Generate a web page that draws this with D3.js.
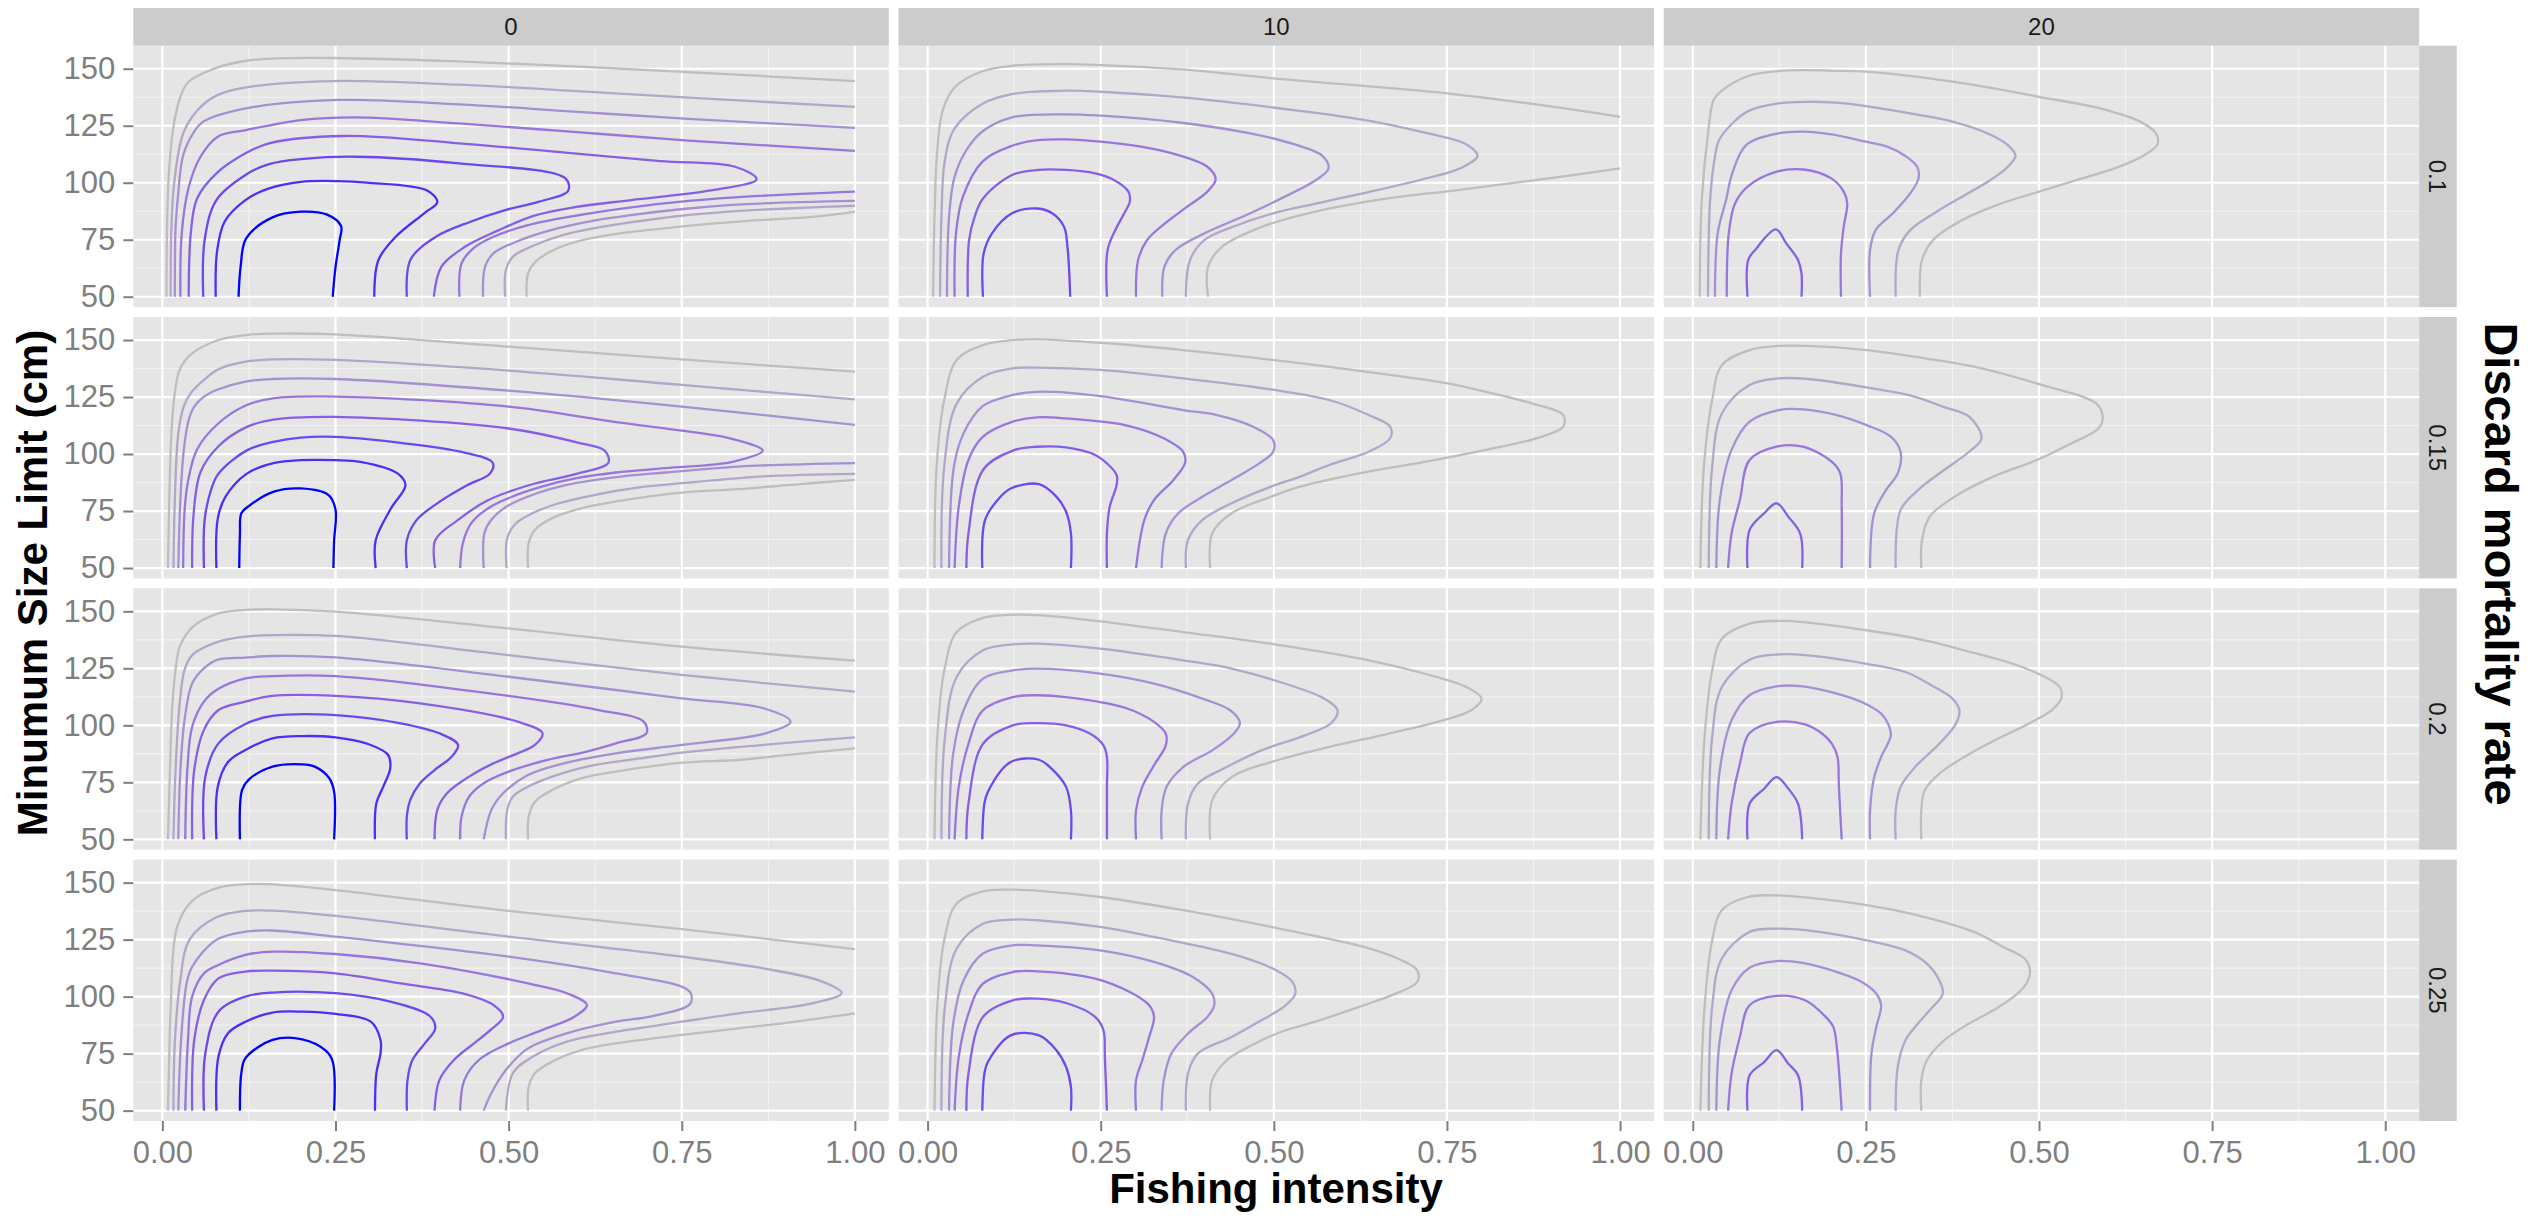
<!DOCTYPE html>
<html><head><meta charset="utf-8">
<script src="https://cdn.jsdelivr.net/npm/d3@7"></script>
<style>
body{margin:0;background:#fff}
svg{display:block}
text{font-family:"Liberation Sans",Arial,Helvetica,sans-serif}
</style>
</head><body>
<svg id="chart" width="2542" height="1220"></svg>
<script>
// ---------------- DATA ----------------
const colFacets = ["0", "10", "20"];
const rowFacets = ["0.1", "0.15", "0.2", "0.25"];
const xTicks = [0, 0.25, 0.5, 0.75, 1];
const xTickLabels = ["0.00", "0.25", "0.50", "0.75", "1.00"];
const yTicks = [50, 75, 100, 125, 150];
const xMinor = [0.125, 0.375, 0.625, 0.875];
const yMinor = [62.5, 87.5, 112.5, 137.5];
const levels = [1, 2, 3, 4, 5, 6, 7, 8];

// contour lines per panel: [level, [[fishing intensity, size limit], ...]]
const cont_r1_c1 = [
[1,[[.006,50],[.007,85],[.010,107],[.016,124.6],[.026,137.7],[.038,144.3],[.078,150.4],[.121,153.5],[.163,154.5],[.246,154.7],[.428,153.2],[.594,151],[.76,148.5],[1,144.6]]],
[1,[[.526,50],[.528,60.2],[.539,65.4],[.565,70.5],[.602,74.5],[.66,77.8],[.718,79.8],[.785,81.8],[.843,83.2],[.943,85.1],[1,87.3]]],
[2,[[.012,50],[.013,80],[.017,99.7],[.03,121.6],[.051,131.9],[.078,138.2],[.121,141.8],[.246,144.6],[.428,143],[.594,140.3],[.76,137.3],[1,133.3]]],
[2,[[.495,50],[.496,61.7],[.506,67.5],[.532,71.9],[.578,77],[.636,80.7],[.718,84.4],[.818,87.3],[.909,88.8],[1,89.9]]],
[3,[[.018,50],[.019,80],[.022,92.4],[.03,112],[.045,122],[.059,126.8],[.121,132.6],[.254,136.3],[.428,134.4],[.594,131.2],[.76,128],[1,124.1]]],
[3,[[.463,50],[.466,63.2],[.478,69],[.511,74.1],[.561,79.2],[.627,83.6],[.677,85.8],[.76,88.7],[.843,90.6],[1,92]]],
[4,[[.026,50],[.028,78],[.038,98],[.055,111.4],[.08,120.2],[.121,123.1],[.2,127.5],[.279,128.7],[.428,126],[.594,122.3],[.76,118.5],[1,114]]],
[4,[[.429,50],[.432,64.6],[.449,71.2],[.478,76.3],[.528,81.4],[.594,85.4],[.677,89.2],[.76,92],[.843,93.9],[1,96.1]]],
[5,[[.038,50],[.041,77.8],[.05,93],[.078,104.1],[.12,112.9],[.154,117.3],[.262,120.5],[.428,117.3],[.594,112.9],[.719,109.5],[.827,107],[.858,101.5],[.789,96.5],[.677,92.4],[.594,89.2],[.536,85.5],[.486,79.2],[.437,71.9],[.403,63.2],[.392,50]]],
[6,[[.059,50],[.061,74.9],[.078,92.4],[.12,103.4],[.154,108.2],[.204,110.5],[.279,111.4],[.428,108.5],[.582,101.9],[.586,96.5],[.544,91.7],[.495,88],[.445,82.9],[.395,76.3],[.358,66.1],[.353,50]]],
[7,[[.077,50],[.079,70],[.09,83],[.12,92.4],[.154,97.5],[.2,100.4],[.254,100.7],[.295,100],[.383,96.5],[.397,91.5],[.378,86.6],[.337,76.3],[.312,66.1],[.306,50]]],
[8,[[.11,50],[.113,63.2],[.121,75.6],[.159,84.8],[.2,87.3],[.237,86.1],[.258,81],[.256,74.9],[.25,63],[.246,50]]]
];

const cont_r1_c2 = [
[1,[[.008,50],[.01,85.1],[.014,114.3],[.022,131.9],[.039,141.8],[.08,149],[.122,151.3],[.201,152],[.25,151.6],[.367,149.7],[.499,145.8],[.75,139.2],[.897,133.6],[1,128.9]]],
[1,[[.405,50],[.405,63.2],[.425,71.9],[.483,80.7],[.549,86.6],[.648,92.4],[.765,96.8],[.897,101.9],[1,106.3]]],
[2,[[.018,50],[.02,85.1],[.025,110],[.039,123.8],[.08,134.8],[.122,138.9],[.201,140.4],[.25,139.9],[.367,137.4],[.499,133],[.632,127.5],[.723,121.6],[.777,117],[.794,111.8],[.771,106.6],[.711,101.2],[.632,95.6],[.566,91.2],[.499,86.6],[.441,80.7],[.4,74.9],[.379,66.1],[.373,50]]],
[3,[[.028,50],[.031,85.1],[.039,102.6],[.056,114.3],[.08,122.7],[.122,128.7],[.201,130],[.25,129.4],[.367,126.3],[.466,121.6],[.528,117],[.57,111.8],[.579,106.3],[.561,101.2],[.516,93.9],[.466,86.6],[.4,77.8],[.358,70.5],[.342,63.2],[.339,50]]],
[4,[[.039,50],[.041,77.8],[.051,93.9],[.08,109.5],[.122,116.2],[.159,118.7],[.201,119],[.25,118],[.308,115.8],[.362,112.1],[.404,107],[.416,101.5],[.404,96.1],[.375,89.5],[.346,82.9],[.317,74.9],[.304,66.1],[.301,50]]],
[5,[[.058,50],[.06,74.9],[.068,85.1],[.08,93.1],[.122,103.4],[.159,105.6],[.201,105.6],[.242,104.1],[.267,101.5],[.29,96.1],[.292,91.7],[.284,86.6],[.271,79.2],[.26,70.5],[.259,50]]],
[6,[[.08,50],[.081,69],[.093,77.8],[.122,86.6],[.159,88.7],[.18,86.6],[.197,80.7],[.202,71.9],[.206,50]]]
];

const cont_r1_c3 = [
[1,[[.01,50],[.013,92.4],[.022,121.6],[.03,136.3],[.04,139.9],[.08,146.8],[.123,149],[.165,149.4],[.206,149.1],[.25,148.7],[.375,144.3],[.5,137.7],[.588,132.6],[.646,126.8],[.669,121.6],[.671,116.8],[.65,111.7],[.613,106.7],[.555,101.2],[.5,96.1],[.439,90.2],[.389,83.6],[.347,74.9],[.331,66.1],[.328,50]]],
[2,[[.022,50],[.025,92.4],[.032,111.4],[.038,118.7],[.057,126],[.08,131.4],[.123,134.8],[.165,135.5],[.206,135.1],[.25,133.6],[.314,130.4],[.375,126.8],[.426,121.6],[.455,116.5],[.466,111.8],[.455,107],[.43,101.2],[.397,95.3],[.356,88],[.314,79.2],[.297,70.5],[.293,50]]],
[3,[[.032,50],[.036,77.8],[.048,92.4],[.057,104.1],[.077,116.5],[.123,121.6],[.16,122.4],[.198,121.3],[.25,118],[.281,115.8],[.307,111.7],[.324,107],[.326,101.9],[.314,95.3],[.289,86.6],[.264,79.2],[.256,70.5],[.256,50]]],
[4,[[.049,50],[.052,77.8],[.061,90.9],[.08,98.5],[.12,104.8],[.16,105.8],[.2,101.9],[.218,96.1],[.223,90.9],[.218,80.7],[.214,69],[.214,50]]],
[5,[[.079,50],[.08,66.1],[.09,70.5],[.12,79.5],[.135,73.4],[.152,66.1],[.157,60.2],[.157,50]]]
];

const cont_r2_c1 = [
[1,[[.008,50],[.010,80],[.013,109],[.018,127],[.025,137],[.040,143.4],[.081,150],[.124,152.3],[.166,152.8],[.25,152.5],[.5,147.1],[.75,141.5],[1,136.1]]],
[1,[[.528,50],[.529,61],[.538,66.8],[.563,71.9],[.606,76.3],[.655,79.2],[.75,83.1],[.832,84.6],[.903,86.4],[1,88.7]]],
[2,[[.016,50],[.018,80],[.023,109],[.031,121],[.041,126.7],[.060,132.5],[.081,137.2],[.120,140.5],[.159,141.5],[.25,141.3],[.5,136.6],[.75,130.3],[1,124]]],
[2,[[.497,50],[.498,63.1],[.510,69.4],[.535,74.1],[.570,78.2],[.620,81.8],[.691,85.5],[.75,87.2],[.868,90.2],[1,91.3]]],
[3,[[.023,50],[.026,80],[.031,102],[.038,115],[.046,120.8],[.060,125.2],[.078,128.1],[.120,131.8],[.159,132.9],[.25,132.9],[.5,127.8],[.75,120.8],[1,112.8]]],
[3,[[.464,50],[.465,65.3],[.475,71.2],[.499,77.3],[.542,82.9],[.584,86.5],[.655,89.9],[.726,91.9],[.832,94.5],[1,96]]],
[4,[[.030,50],[.032,75],[.037,88],[.05,102],[.081,113.5],[.122,121.5],[.16,124.4],[.249,125.2],[.5,120.8],[.655,114],[.75,110.3],[.818,107],[.867,101.5],[.825,96.7],[.726,93.8],[.655,91.9],[.598,89.4],[.549,85.8],[.506,81.4],[.471,76.3],[.446,69.7],[.434,61],[.43,50]]],
[5,[[.043,50],[.045,73.4],[.055,92],[.081,103.4],[.122,111.9],[.16,115.1],[.249,116.3],[.5,111.2],[.6,105],[.639,101.4],[.644,96.2],[.599,91.4],[.558,88.5],[.529,86.3],[.47,79.7],[.426,70.9],[.394,62.2],[.394,50]]],
[6,[[.060,50],[.061,71.1],[.07,84],[.081,91.4],[.122,101.6],[.16,105.3],[.2,107.2],[.249,107.5],[.352,104.6],[.432,100.9],[.477,96.2],[.473,91.4],[.44,86.3],[.4,79],[.367,71],[.353,62.2],[.353,50]]],
[7,[[.078,50],[.080,71.7],[.091,81.2],[.122,91.4],[.162,96.1],[.2,97.3],[.249,97.3],[.286,96.6],[.34,91.4],[.351,86.3],[.33,76.1],[.308,62.2],[.308,50]]],
[8,[[.111,50],[.112,65],[.114,74],[.124,77],[.161,83.5],[.2,84.9],[.24,82],[.25,75.7],[.248,62],[.247,50]]]
];

const cont_r2_c2 = [
[1,[[.01,50],[.013,94.4],[.024,123.7],[.042,141.2],[.08,147.8],[.123,150],[.158,150.3],[.249,148.8],[.369,145.6],[.501,141.2],[.651,135.4],[.751,131],[.806,127.3],[.876,121.9],[.918,117.1],[.918,112],[.879,106.9],[.806,101.8],[.714,96.3],[.623,91.5],[.538,85.7],[.496,81.3],[.439,74],[.411,65.2],[.408,50]]],
[2,[[.02,50],[.024,94.4],[.042,122.1],[.08,133.9],[.123,137.6],[.158,137.9],[.249,136.9],[.369,133.2],[.501,128.1],[.58,123.7],[.637,117.1],[.668,112],[.668,106.9],[.637,101],[.58,95.2],[.538,90.1],[.496,85.7],[.439,78.4],[.397,71.1],[.376,62.3],[.373,50]]],
[3,[[.031,50],[.038,94.4],[.052,109.1],[.08,121.1],[.123,125.9],[.158,127.3],[.249,125.4],[.369,119.3],[.418,117.1],[.47,112],[.499,106.1],[.499,101],[.479,95.9],[.439,88.6],[.397,81.3],[.362,74],[.344,65.2],[.338,50]]],
[4,[[.039,50],[.045,76.9],[.059,97.4],[.08,107.6],[.123,114.2],[.158,116.1],[.2,115.6],[.285,112.7],[.341,106.9],[.369,101],[.372,96.3],[.355,88.6],[.327,79.8],[.313,71.1],[.301,50]]],
[5,[[.056,50],[.059,65.2],[.08,93],[.123,101.5],[.158,103.2],[.2,102.9],[.242,99.6],[.259,95.9],[.273,90.8],[.273,86.4],[.263,76.9],[.259,65.2],[.259,50]]],
[6,[[.079,50],[.083,71.1],[.101,79.8],[.12,84.9],[.161,86.8],[.186,81.3],[.2,74.7],[.207,65.2],[.207,50]]]
];

const cont_r2_c3 = [
[1,[[.011,50],[.016,94.4],[.028,123.7],[.042,139],[.082,145.6],[.124,147.4],[.166,147.4],[.251,145.6],[.335,142],[.406,138.3],[.504,130.3],[.582,122.3],[.592,116.4],[.586,111.3],[.547,104.7],[.497,97.4],[.434,90.1],[.378,81.3],[.342,72.5],[.331,62.3],[.33,50]]],
[2,[[.023,50],[.028,94.4],[.042,117.8],[.082,130.3],[.124,133.2],[.166,132.9],[.251,129.2],[.321,125.1],[.361,120.8],[.399,116.4],[.417,106.9],[.399,101],[.363,93],[.328,84.9],[.3,75.4],[.293,50]]],
[3,[[.034,50],[.039,79.8],[.056,101.8],[.082,114.2],[.124,119.3],[.159,119.6],[.208,117.1],[.251,112.7],[.286,107.6],[.3,101],[.296,91.5],[.279,84.2],[.262,74],[.256,50]]],
[4,[[.051,50],[.056,65.2],[.068,79.8],[.082,97.4],[.121,103.2],[.159,103.2],[.201,96.6],[.213,91.5],[.215,76.9],[.215,50]]],
[5,[[.079,50],[.082,66.7],[.103,74],[.121,78.4],[.138,72.5],[.155,65.2],[.158,50]]]
];

const cont_r3_c1 = [
[1,[[.008,50],[.011,80.4],[.014,106.7],[.019,124.3],[.025,134.5],[.043,143],[.081,149.1],[.12,150.6],[.159,150.9],[.25,149.9],[.5,142.5],[.75,134.5],[1,128.4]]],
[1,[[.528,50],[.529,59.9],[.538,66.5],[.563,71.6],[.606,76.8],[.655,79.7],[.75,83.6],[.832,84.8],[.903,87],[1,89.9]]],
[2,[[.016,50],[.019,80.4],[.025,109.6],[.032,124.3],[.043,130.8],[.081,136.7],[.12,138.9],[.159,139.6],[.25,139.2],[.5,130.8],[.75,122.1],[1,114.8]]],
[2,[[.496,50],[.498,62.9],[.506,68.7],[.528,73.1],[.563,77.5],[.613,81.9],[.69,85.5],[.75,88],[.868,91.4],[1,94.7]]],
[3,[[.023,50],[.026,80.4],[.032,102.3],[.043,118.4],[.06,125],[.081,128.9],[.12,129.7],[.159,130.4],[.25,129.8],[.5,121.3],[.655,115.5],[.75,111.8],[.868,107.5],[.907,101.6],[.871,96.5],[.75,91.4],[.655,87.7],[.584,83.6],[.528,78.2],[.492,70.2],[.475,62.9],[.464,50]]],
[4,[[.033,50],[.036,80.4],[.043,99.4],[.06,110.4],[.081,116],[.12,120.6],[.159,121.6],[.25,121.6],[.5,112.9],[.63,106.7],[.695,101.6],[.699,96.5],[.655,92.1],[.613,88.5],[.556,84.8],[.5,79.7],[.464,74.6],[.443,68.7],[.432,59.9],[.43,50]]],
[5,[[.043,50],[.046,80.4],[.06,98],[.081,106.7],[.12,110.4],[.159,112.9],[.25,112.9],[.372,109.6],[.513,101.6],[.549,96.5],[.538,91.4],[.513,87.7],[.478,83.3],[.443,77.5],[.411,70.2],[.397,62.9],[.393,50]]],
[6,[[.06,50],[.062,77.5],[.081,92.1],[.12,100.6],[.159,104.1],[.25,104.5],[.344,100.9],[.4,96.5],[.427,91.4],[.418,86.3],[.393,80.4],[.372,74.6],[.358,67.3],[.353,60],[.353,50]]],
[7,[[.078,50],[.08,73.1],[.095,84],[.12,89.2],[.159,94.3],[.202,95.3],[.25,94.7],[.297,91.8],[.326,87],[.329,81.1],[.319,73.1],[.309,65.8],[.307,50]]],
[8,[[.112,50],[.115,71.6],[.124,76],[.159,81.9],[.202,82.9],[.22,81.9],[.241,76.8],[.248,70.9],[.248,50]]]
];

const cont_r3_c2 = [
[1,[[.01,50],[.014,94.6],[.024,123.8],[.042,140.9],[.08,147.1],[.123,148.5],[.165,148.2],[.249,145.6],[.369,140.9],[.501,135.5],[.637,128.5],[.735,121.2],[.778,116.8],[.8,111.7],[.785,106.6],[.736,101.5],[.665,96.3],[.58,90.5],[.496,83.9],[.439,77.3],[.411,67.1],[.408,50]]],
[2,[[.02,50],[.025,94.6],[.042,121.2],[.08,132.9],[.123,135.5],[.158,135.8],[.249,133.6],[.369,128.5],[.439,124.9],[.531,116.8],[.573,111.7],[.592,106.6],[.583,101],[.545,95.6],[.482,89],[.432,81.7],[.39,74.4],[.376,65.6],[.373,50]]],
[3,[[.031,50],[.037,87.6],[.052,106.6],[.08,120.5],[.123,124.1],[.158,124.9],[.249,122.7],[.327,118.3],[.397,111.7],[.437,106.6],[.451,101],[.442,96.3],[.411,89],[.369,81.7],[.345,73],[.338,62.7],[.338,50]]],
[4,[[.039,50],[.045,73],[.059,91.9],[.08,106.6],[.123,112.4],[.158,113.2],[.2,112.4],[.285,107.7],[.327,101.5],[.344,96.3],[.344,91.2],[.327,82.5],[.31,73],[.301,62.7],[.301,50]]],
[5,[[.056,50],[.059,65.6],[.08,91.9],[.123,100],[.158,101],[.2,100],[.235,96.3],[.254,91.2],[.259,86.1],[.259,72.9],[.259,50]]],
[6,[[.079,50],[.082,65.6],[.087,70.8],[.12,83.9],[.161,84.9],[.179,81],[.2,73],[.207,62.7],[.207,50]]]
];

const cont_r3_c3 = [
[1,[[.011,50],[.017,94.9],[.028,124.1],[.042,138],[.082,144.6],[.124,145.8],[.159,145.3],[.251,141.7],[.335,137.3],[.392,132.9],[.462,127],[.504,121.9],[.53,116.8],[.532,111.7],[.518,106.6],[.49,101.5],[.441,94.2],[.392,86.1],[.356,78.8],[.335,71.5],[.33,62.7],[.33,50]]],
[2,[[.023,50],[.028,94.9],[.042,116.8],[.082,128.8],[.124,131.1],[.166,130.7],[.251,127],[.307,123.4],[.349,116.8],[.375,111.7],[.385,106.6],[.38,100.7],[.356,91.9],[.321,81.7],[.3,73],[.293,62.7],[.293,50]]],
[3,[[.034,50],[.039,80.3],[.056,102.2],[.082,113.2],[.121,117.1],[.159,117.1],[.208,113.9],[.244,110.2],[.272,105.1],[.282,100.7],[.286,95.6],[.272,86.1],[.262,77.3],[.256,62.7],[.256,50]]],
[4,[[.051,50],[.056,65.6],[.068,83.2],[.082,96.6],[.121,101.5],[.162,100.4],[.187,96.3],[.201,91.9],[.209,86.1],[.211,73],[.215,50]]],
[5,[[.079,50],[.082,65.6],[.103,72.2],[.121,77.3],[.138,72.2],[.152,65.6],[.158,50]]]
];

const cont_r4_c1 = [
[1,[[.008,50],[.01,75],[.012,94.9],[.021,130.3],[.043,142],[.081,147.8],[.124,149.3],[.159,149.2],[.25,146.7],[.5,137.6],[.75,129.6],[1,120.8]]],
[1,[[.528,50],[.529,60.5],[.538,66.4],[.563,71.5],[.606,76.6],[.655,79.5],[.75,83.2],[.832,86.1],[.903,88.6],[1,92.7]]],
[2,[[.016,50],[.018,80],[.026,107.3],[.039,124.9],[.078,134.8],[.12,137.6],[.159,137.7],[.25,135.4],[.5,126.3],[.75,117.5],[.868,112.4],[.953,106.6],[.981,101.5],[.931,96.6],[.832,92.7],[.75,89],[.655,84.6],[.584,80.3],[.535,73.7],[.506,66.4],[.496,50]]],
[3,[[.023,50],[.027,81],[.035,105.8],[.043,113.1],[.078,124.9],[.12,128.5],[.159,129],[.25,126.3],[.5,117.5],[.655,110.2],[.75,104.4],[.763,101.5],[.762,96.8],[.708,91.5],[.655,89],[.584,83.9],[.528,77.3],[.496,67.8],[.475,57.6],[.464,50]]],
[4,[[.033,50],[.037,81],[.043,100],[.06,110.2],[.081,113.9],[.12,118.3],[.159,119.7],[.25,118.7],[.372,114.6],[.528,105.8],[.584,101.5],[.613,96.3],[.595,91.2],[.549,85.4],[.5,79.5],[.457,72.2],[.436,63.4],[.43,50]]],
[5,[[.043,50],[.046,81],[.06,98.5],[.081,108],[.12,111],[.159,111.4],[.25,110.2],[.344,105.8],[.432,101.5],[.478,96.3],[.492,91.2],[.474,85.4],[.45,79.5],[.421,72.2],[.4,63.4],[.393,50]]],
[6,[[.06,50],[.062,75.1],[.081,93.4],[.12,100],[.159,101.8],[.25,101.5],[.329,97.8],[.386,91.5],[.394,86.1],[.379,79.5],[.361,72.2],[.354,63.4],[.353,50]]],
[7,[[.078,50],[.081,73.7],[.095,84],[.12,89],[.159,93],[.202,93.4],[.25,92.4],[.301,89],[.315,81],[.315,75.1],[.309,66.4],[.307,50]]],
[8,[[.112,50],[.114,66.4],[.12,73],[.159,81],[.202,81.3],[.236,76.3],[.246,71.5],[.248,50]]]
];

const cont_r4_c2 = [
[1,[[.01,50],[.014,95.5],[.024,124.7],[.042,140.8],[.08,146.2],[.123,146.9],[.165,146.3],[.249,143.7],[.369,137.9],[.501,130.3],[.566,126.2],[.63,121.8],[.679,116.7],[.707,111.6],[.707,106.4],[.676,101.3],[.623,95.5],[.566,89.6],[.51,84.5],[.468,78.7],[.432,72.1],[.411,63.3],[.408,50]]],
[2,[[.02,50],[.025,95.5],[.042,121.1],[.08,132],[.123,133.8],[.158,133.5],[.249,130.6],[.327,126.2],[.397,121.8],[.454,117.4],[.503,111.6],[.527,106.4],[.531,101.3],[.517,96.2],[.482,89.6],[.439,82.3],[.39,75],[.376,66.2],[.373,50]]],
[3,[[.031,50],[.037,88.2],[.052,107.2],[.08,118.9],[.123,122.5],[.158,122.5],[.249,120.3],[.327,115.2],[.383,108.6],[.411,101.3],[.414,96.2],[.404,91.1],[.376,83.8],[.352,75],[.341,63.3],[.338,50]]],
[4,[[.039,50],[.045,73.5],[.059,92.5],[.08,105.7],[.123,110.8],[.158,111.1],[.242,107.9],[.292,102],[.32,96.2],[.327,91.1],[.32,82.3],[.31,72.1],[.301,63.3],[.301,50]]],
[5,[[.056,50],[.059,66.2],[.08,91.1],[.123,98.4],[.158,99.1],[.2,97.2],[.242,91.1],[.254,85.2],[.256,73.5],[.259,50]]],
[6,[[.079,50],[.082,66.2],[.087,71.3],[.12,83],[.161,83],[.186,76.5],[.2,69.2],[.207,60.4],[.207,50]]]
];

const cont_r4_c3 = [
[1,[[.011,50],[.017,95.5],[.028,124.7],[.042,137.9],[.079,143.7],[.121,144.4],[.166,143.4],[.251,140.1],[.335,134.9],[.406,128.4],[.448,121.8],[.479,116.7],[.487,111.6],[.483,106.4],[.469,101.3],[.434,94],[.399,88.2],[.363,80.8],[.338,72.1],[.33,63.3],[.33,50]]],
[2,[[.023,50],[.028,95.5],[.042,116.7],[.082,128.4],[.121,129.8],[.166,129.1],[.251,124.7],[.307,120.3],[.338,114.5],[.356,107.2],[.361,101.3],[.342,94],[.321,86.7],[.307,80.8],[.296,69.2],[.293,50]]],
[3,[[.034,50],[.039,80.8],[.056,102.8],[.082,112.7],[.121,115.6],[.159,114.8],[.208,110.8],[.244,106.4],[.265,101.3],[.272,96.2],[.265,86.7],[.258,75],[.256,50]]],
[4,[[.051,50],[.056,66.2],[.068,82.3],[.082,96.2],[.121,100.3],[.162,98.4],[.192,91.1],[.203,86.7],[.208,77.9],[.215,50]]],
[5,[[.079,50],[.082,65.5],[.103,71.3],[.121,76.5],[.138,70.6],[.152,65.5],[.158,50]]]
];

const panelContours = [
  [cont_r1_c1, cont_r1_c2, cont_r1_c3],
  [cont_r2_c1, cont_r2_c2, cont_r2_c3],
  [cont_r3_c1, cont_r3_c2, cont_r3_c3],
  [cont_r4_c1, cont_r4_c2, cont_r4_c3]
];

// ---------------- LAYOUT ----------------
const svg = d3.select("#chart");
svg.append("rect").attr("width", 2542).attr("height", 1220).attr("fill", "#fff");

const panelX0 = 133.3, colStep = 765.2, panelW = 755.5;
const panelY0 = 45.7, rowStep = 271.3, panelH = 261.4;
const stripTop = 8, stripH = panelY0 - stripTop, stripW = 37.5;

const x = d3.scaleLinear().domain([-0.042, 1.049]).range([0, panelW]);
const y = d3.scaleLinear().domain([45.45, 160.1]).range([panelH, 0]);
const color = d3.scaleLinear().domain([d3.min(levels), d3.max(levels)])
  .range(["#bebebe", "#0000ff"]).interpolate(d3.interpolateLab);

const line = d3.line().x(d => x(d[0])).y(d => y(d[1])).curve(d3.curveCatmullRom.alpha(0.5));

rowFacets.forEach((rf, r) => {
  colFacets.forEach((cf, c) => {
    const px = panelX0 + c * colStep, py = panelY0 + r * rowStep;
    const g = svg.append("g").attr("transform", `translate(${px},${py})`);
    g.append("rect").attr("width", panelW).attr("height", panelH).attr("fill", "#e5e5e5");
    // minor grid
    g.selectAll(".vmin").data(xMinor).enter().append("line")
      .attr("x1", d => x(d)).attr("x2", d => x(d)).attr("y1", 0).attr("y2", panelH)
      .attr("stroke", "#f2f2f2").attr("stroke-width", 1.1);
    g.selectAll(".hmin").data(yMinor).enter().append("line")
      .attr("y1", d => y(d)).attr("y2", d => y(d)).attr("x1", 0).attr("x2", panelW)
      .attr("stroke", "#f2f2f2").attr("stroke-width", 1.1);
    // major grid
    g.selectAll(".vmaj").data(xTicks).enter().append("line")
      .attr("x1", d => x(d)).attr("x2", d => x(d)).attr("y1", 0).attr("y2", panelH)
      .attr("stroke", "#ffffff").attr("stroke-width", 2.2);
    g.selectAll(".hmaj").data(yTicks).enter().append("line")
      .attr("y1", d => y(d)).attr("y2", d => y(d)).attr("x1", 0).attr("x2", panelW)
      .attr("stroke", "#ffffff").attr("stroke-width", 2.2);
    // contours
    const cs = panelContours[r][c].slice().sort((a, b) => a[0] - b[0]);
    g.selectAll(".ct").data(cs).enter().append("path")
      .attr("d", d => line(d[1]))
      .attr("fill", "none")
      .attr("stroke", d => color(d[0]))
      .attr("stroke-width", 2.3)
      .attr("stroke-linejoin", "round")
      .attr("stroke-linecap", "butt");

    // y axis on left column
    if (c === 0) {
      const ay = g.append("g").call(d3.axisLeft(y).tickValues(yTicks).tickSize(10).tickPadding(8));
      ay.select(".domain").remove();
      ay.selectAll("line").attr("stroke", "#7f7f7f").attr("stroke-width", 2);
      ay.selectAll("text").attr("fill", "#7f7f7f").attr("font-size", 31)
        .attr("font-family", '"Liberation Sans",Arial,sans-serif');
    }
    // x axis on bottom row
    if (r === rowFacets.length - 1) {
      const ax = g.append("g").attr("transform", `translate(0,${panelH})`)
        .call(d3.axisBottom(x).tickValues(xTicks).tickFormat((d, i) => xTickLabels[i]).tickSize(10).tickPadding(10));
      ax.select(".domain").remove();
      ax.selectAll("line").attr("stroke", "#7f7f7f").attr("stroke-width", 2);
      ax.selectAll("text").attr("fill", "#7f7f7f").attr("font-size", 31)
        .attr("font-family", '"Liberation Sans",Arial,sans-serif');
    }
  });
});

// top strips
colFacets.forEach((cf, c) => {
  const px = panelX0 + c * colStep;
  svg.append("rect").attr("x", px).attr("y", stripTop).attr("width", panelW).attr("height", stripH).attr("fill", "#cccccc");
  svg.append("text").attr("x", px + panelW / 2).attr("y", stripTop + stripH / 2).attr("dy", "0.36em")
    .attr("text-anchor", "middle").attr("font-size", 24).attr("fill", "#1a1a1a").text(cf);
});
// right strips
const stripX = panelX0 + 2 * colStep + panelW;
rowFacets.forEach((rf, r) => {
  const py = panelY0 + r * rowStep;
  svg.append("rect").attr("x", stripX).attr("y", py).attr("width", stripW).attr("height", panelH).attr("fill", "#cccccc");
  svg.append("text").attr("transform", `translate(${stripX + stripW / 2},${py + panelH / 2}) rotate(90)`)
    .attr("dy", "0.36em").attr("text-anchor", "middle").attr("font-size", 24).attr("fill", "#1a1a1a").text(rf);
});

// axis titles
svg.append("text").attr("x", 1276).attr("y", 1203).attr("text-anchor", "middle")
  .attr("font-size", 42).attr("font-weight", "bold").attr("fill", "#000").text("Fishing intensity");
svg.append("text").attr("transform", "translate(47,583) rotate(-90)").attr("text-anchor", "middle")
  .attr("font-size", 42).attr("font-weight", "bold").attr("fill", "#000").text("Minumum Size Limit (cm)");
svg.append("text").attr("transform", "translate(2485,564) rotate(90)").attr("text-anchor", "middle")
  .attr("font-size", 47).attr("font-weight", "bold").attr("fill", "#000").text("Discard mortality rate");
</script>
</body></html>
